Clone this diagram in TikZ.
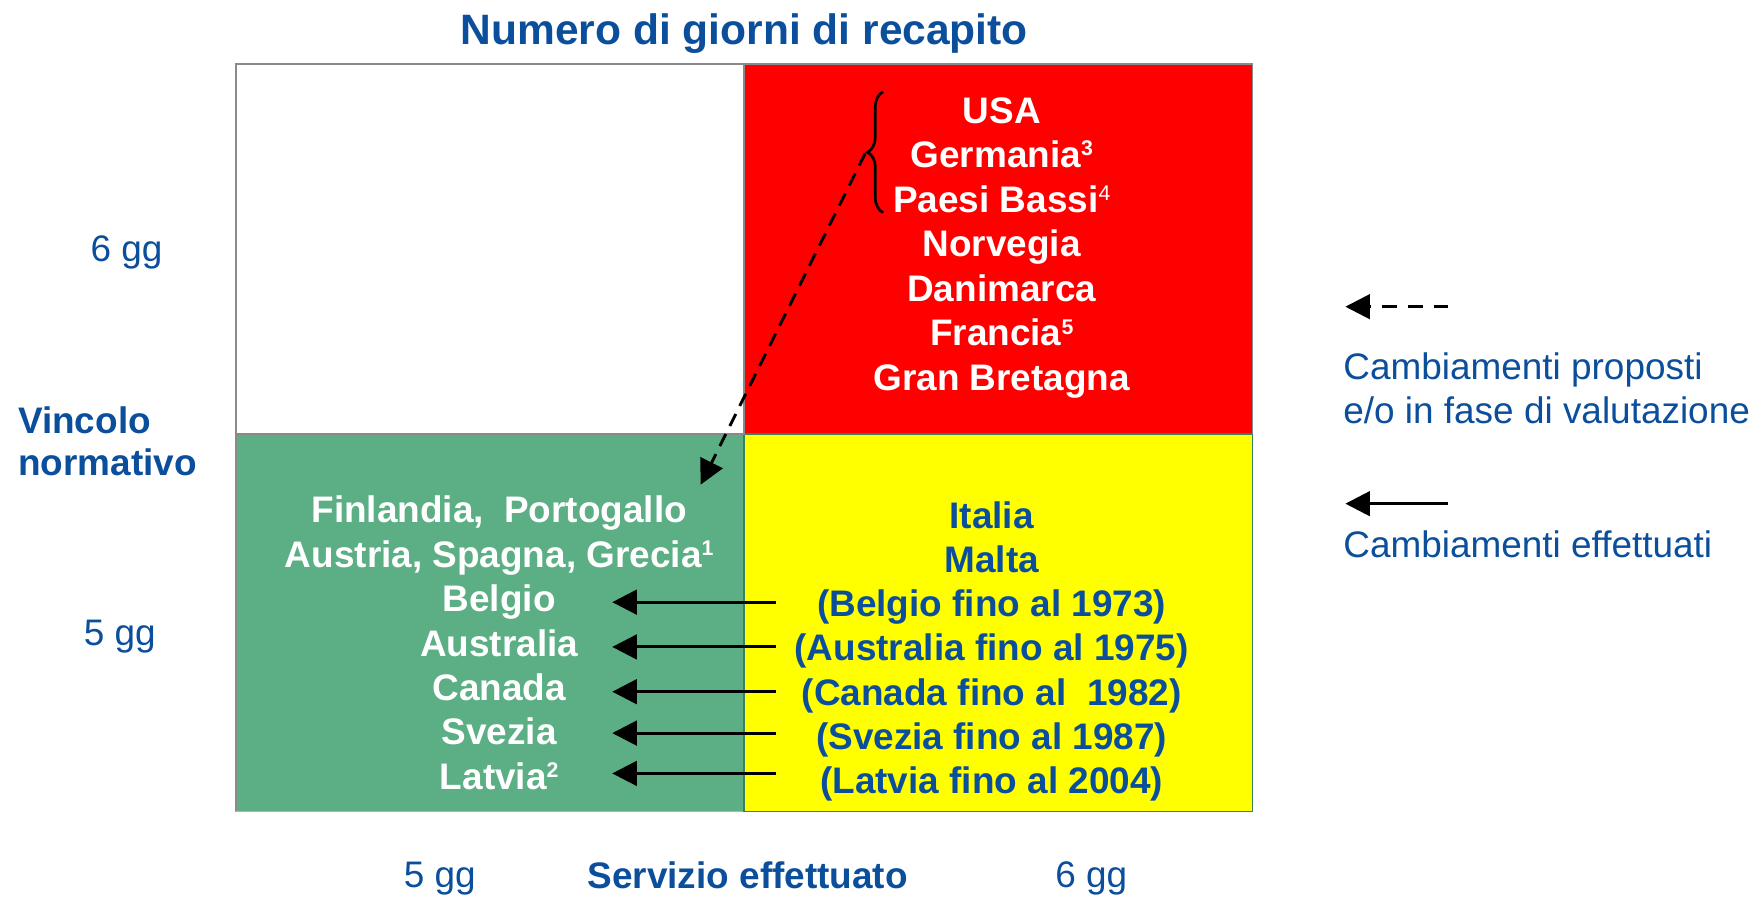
\documentclass[tikz,border=0pt]{standalone}
\usepackage{fontspec}
\setmainfont{Liberation Sans}
\usetikzlibrary{arrows.meta,decorations.pathreplacing}
\definecolor{tblue}{HTML}{0B4F9C}
\definecolor{tgreen}{HTML}{5CAF84}
\definecolor{tred}{HTML}{FF0000}
\definecolor{tyellow}{HTML}{FFFF00}
\definecolor{tgrey}{HTML}{8A8A8A}
\definecolor{tedge}{HTML}{3A7F60}
\newcommand\supnum[1]{\raisebox{10.5pt}{\fontsize{19}{19}\selectfont #1}}
\begin{document}
\begin{tikzpicture}[x=1pt,y=-1pt,
  txt/.style={inner sep=0pt, anchor=base, font=\fontsize{33}{40}\selectfont},
  btxt/.style={inner sep=0pt, anchor=base, font=\fontsize{33}{40}\selectfont\bfseries},
  wtxt/.style={btxt, text=white},
  ytxt/.style={btxt, text=tblue},
  axlab/.style={txt, text=tblue},
  baxlab/.style={btxt, text=tblue},
  done/.style={line width=2.6pt, -{Triangle[length=22pt,width=22pt]}},
  prop/.style={line width=2.6pt, dash pattern=on 12pt off 8pt, -{Triangle[length=22pt,width=22pt]}},
  legprop/.style={line width=2.6pt, dash pattern=on 13pt off 10pt, -{Triangle[length=22pt,width=22pt]}}]
\useasboundingbox (0,0) rectangle (1568,803);
% quadrants
\fill[white] (211,57) rectangle (665,388);
\fill[tred] (665,57) rectangle (1119,388);
\filldraw[fill=tgreen, draw=tgreen!70!white, line width=1.2pt] (211,388) rectangle (665,725);
\filldraw[fill=tyellow, draw=tedge, line width=1.5pt] (665,388) rectangle (1119,725);
\draw[tgrey, line width=1.5pt] (211,725) -- (211,57) -- (1119,57) -- (1119,388);
\draw[tgrey, line width=1.5pt] (211,388) -- (665,388) -- (665,57);
% title and axis labels
\node[baxlab, font=\fontsize{38}{44}\selectfont\bfseries] (title) at (665,40) {Numero di giorni di recapito};
\node[axlab] (six) at (113,234) {6 gg};
\node[axlab] (five) at (107,577) {5 gg};
\node[baxlab, anchor=base west] (vinc) at (16,387) {Vincolo};
\node[baxlab, anchor=base west] (norm) at (16,425) {normativo};
\node[axlab] (fiveb) at (393,793) {5 gg};
\node[baxlab] (serv) at (668,794) {Servizio effettuato};
\node[axlab] (sixb) at (975,793) {6 gg};
% red quadrant
\foreach \t [count=\i] in {USA, Germania\supnum{3}, Paesi Bassi\supnum{\mdseries 4}, Norvegia, Danimarca, Francia\supnum{5}, Gran Bretagna}
  \node[wtxt] (r\i) at (895,{110+39.8*(\i-1)}) {\t};
% green quadrant
\foreach \t [count=\i] in {{Finlandia,\ \ Portogallo}, {Austria, Spagna, Grecia\supnum{1}}, Belgio, Australia, Canada, Svezia, Latvia\supnum{2}}
  \node[wtxt] (g\i) at (446,{467+39.7*(\i-1)}) {\t};
% yellow quadrant
\foreach \t [count=\i] in {Italia, Malta, (Belgio fino al 1973), (Australia fino al 1975), (Canada fino al\ \ 1982), (Svezia fino al 1987), (Latvia fino al 2004)}
  \node[ytxt] (y\i) at (886,{472+39.5*(\i-1)}) {\t};
% effected changes
\foreach \yy [count=\i] in {538,578,618,655,691} {
  \coordinate (s\i) at (693,\yy);
  \coordinate (e\i) at (547,\yy);
  \draw[done] (s\i) -- (e\i);
}
% brace and proposed change
\coordinate (bb) at (789,190);
\coordinate (bt) at (789,82);
\draw[line width=2.4pt, decorate, decoration={brace, amplitude=14pt}] (bb) -- (bt);
\coordinate (btip) at (773,137);
\coordinate (dtip) at (626,433);
\draw[prop] (btip) -- (dtip);
% legend
\coordinate (l1s) at (1294,274);
\coordinate (l1e) at (1202,274);
\draw[legprop] (l1s) -- (l1e);
\coordinate (l2s) at (1294,450);
\coordinate (l2e) at (1202,450);
\draw[done] (l2s) -- (l2e);
\node[axlab, anchor=base west] (leg1) at (1200,339) {Cambiamenti proposti};
\node[axlab, anchor=base west] (leg2) at (1200,378) {e/o in fase di valutazione};
\node[axlab, anchor=base west] (leg3) at (1200,498) {Cambiamenti effettuati};
\end{tikzpicture}
\end{document}
